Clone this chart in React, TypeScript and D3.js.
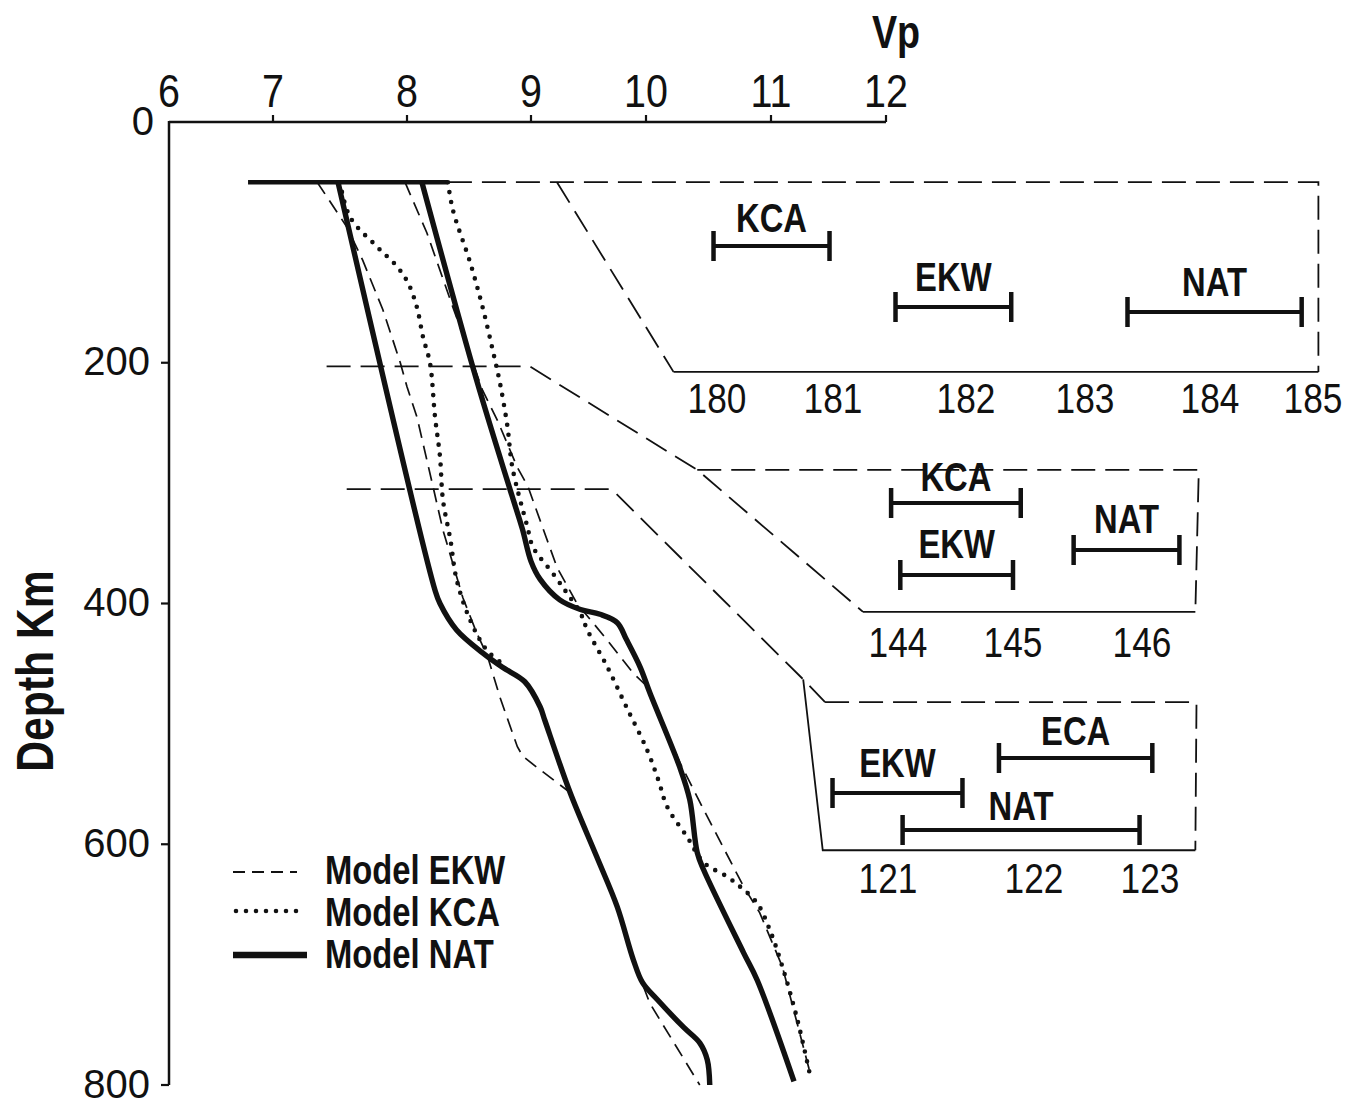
import React from 'react';
import * as d3 from 'd3';

// ---------- axis ticks ----------
const VP_TICKS = [6, 7, 8, 9, 10, 11, 12];
const DEPTH_TICKS = [0, 200, 400, 600, 800];

// ---------- model curves: [Vp (km/s), depth (km)] ----------
const MODEL_EKW_A: [number, number][] = [
  [7.33, 50], [7.55, 87], [7.67, 115], [7.82, 156], [7.95, 200], [8.0, 220], [8.08, 245],
  [8.21, 303], [8.29, 339], [8.45, 395], [8.56, 424], [8.65, 444], [8.75, 478], [8.89, 519],
  [8.935, 527], [9.05, 536], [9.34, 557], [9.57, 610], [9.75, 652], [9.89, 696], [10.03, 732],
  [10.43, 800],
];
const MODEL_EKW_B: [number, number][] = [
  [7.985, 50], [8.16, 92], [8.35, 148], [8.61, 223], [8.73, 248], [8.89, 287], [8.976, 303],
  [9.226, 370], [9.4, 400], [9.66, 430], [9.89, 458], [10.01, 469], [10.27, 532], [10.46, 571],
  [10.78, 635], [10.91, 657], [11.1, 702], [11.31, 779], [11.34, 790],
];
const MODEL_KCA_A: [number, number][] = [
  [7.5, 50], [7.575, 79], [7.78, 104], [7.925, 120], [8.01, 134], [8.08, 154], [8.13, 179],
  [8.185, 200], [8.226, 245], [8.266, 278], [8.29, 314], [8.35, 347], [8.4, 380], [8.51, 414],
  [8.645, 439], [8.77, 450],
];
const MODEL_KCA_B: [number, number][] = [
  [8.33, 50], [8.37, 73], [8.51, 117], [8.61, 154], [8.69, 189], [8.75, 217], [8.81, 253],
  [8.85, 287], [8.97, 336], [9.017, 353], [9.19, 375], [9.31, 391], [9.43, 408], [9.49, 422],
  [9.66, 452], [9.83, 486], [10.01, 522], [10.1, 547], [10.17, 569], [10.33, 594], [10.46, 615],
  [10.65, 627], [10.75, 635], [10.89, 649], [10.99, 671], [11.1, 702], [11.23, 746], [11.34, 792],
];
const MODEL_NAT_A: [number, number][] = [
  [7.485, 50], [8.226, 389], [8.266, 400], [8.4, 422], [8.61, 441], [8.77, 453], [8.95, 465],
  [9.08, 486], [9.12, 497], [9.34, 557], [9.57, 610], [9.75, 652], [9.89, 696], [9.97, 715],
  [10.09, 729], [10.3, 752], [10.43, 765], [10.49, 779], [10.51, 800],
];
const MODEL_NAT_B: [number, number][] = [
  [8.12, 50], [8.56, 214], [8.83, 305], [8.93, 338], [9.0, 365], [9.08, 380], [9.25, 397],
  [9.43, 405], [9.6, 409], [9.75, 416], [9.83, 430], [9.95, 453], [10.03, 474], [10.27, 536],
  [10.35, 563], [10.41, 607], [10.46, 621], [10.78, 690], [10.89, 713], [11.2, 797],
];
const TOP_SEGMENT: [number, number][] = [[6.76, 50], [8.33, 50]];

// ---------- inset outlines, in [Vp, depth] ----------
const OUTLINES_DASHED: [number, number][][] = [
  [[8.33, 50], [15.76, 50], [15.76, 207.6]],
  [[9.226, 50], [10.22, 207.6]],
  [[7.4, 203], [8.99, 203], [10.41, 289], [11.8, 407]],
  [[10.41, 289], [14.72, 289], [14.69, 407]],
  [[7.55, 305], [9.7, 305], [11.28, 463], [11.47, 482]],
  [[11.47, 482], [14.7, 482], [14.69, 605]],
];
const OUTLINES_SOLID: [number, number][][] = [
  [[10.22, 207.6], [15.76, 207.6]],
  [[11.8, 407], [14.69, 407]],
  [[11.28, 463], [11.45, 605], [14.69, 605]],
];

// ---------- insets: tick values and bar ranges ----------
const INSET1_TICKS = [180, 181, 182, 183, 184, 185];
const INSET2_TICKS = [144, 145, 146];
const INSET3_TICKS = [121, 122, 123];
const INSET1_NAMES = ['KCA', 'EKW', 'NAT'];
const INSET1_LO = [179.97, 181.47, 183.34];
const INSET1_HI = [180.97, 182.38, 184.89];
const INSET2_NAMES = ['KCA', 'EKW', 'NAT'];
const INSET2_LO = [143.94, 144.02, 145.47];
const INSET2_HI = [145.06, 145.0, 146.29];
const INSET3_NAMES = ['ECA', 'EKW', 'NAT'];
const INSET3_LO = [121.76, 120.62, 121.1];
const INSET3_HI = [123.02, 121.51, 122.91];

const LEGEND = ['Model EKW', 'Model KCA', 'Model NAT'];

const SANS = "'Liberation Sans', Arial, Helvetica, sans-serif";
const INK = '#111';

type NTextProps = {
  x: number;
  y: number;
  size: number;
  anchor?: 'start' | 'middle' | 'end';
  bold?: boolean;
  sx?: number;
  rotate?: number;
  children: React.ReactNode;
};

// Condensed text: Liberation Sans squeezed horizontally
function NText({ x, y, size, anchor = 'middle', bold = false, sx = 0.82, rotate = 0, children }: NTextProps) {
  const tr = `translate(${x},${y})${rotate ? ` rotate(${rotate})` : ''} scale(${sx},1)`;
  return (
    <text
      transform={tr}
      textAnchor={anchor}
      fontFamily={SANS}
      fontWeight={bold ? 'bold' : 'normal'}
      fontSize={size}
      fill={INK}
    >
      {children}
    </text>
  );
}

export default function App() {
  const W = 1357;
  const H = 1106;
  const x = d3.scaleLinear().domain(VP_TICKS).range([169, 273, 407, 531, 646, 771, 886]);
  const y = d3.scaleLinear().domain([0, 800]).range([122, 1085]);

  const linear = d3.line<[number, number]>().x(d => x(d[0])).y(d => y(d[1]));
  const smooth = d3
    .line<[number, number]>()
    .x(d => x(d[0]))
    .y(d => y(d[1]))
    .curve(d3.curveCatmullRom.alpha(0.5));

  const insets = [
    {
      ticks: INSET1_TICKS,
      scale: d3.scaleLinear().domain(INSET1_TICKS).range([717, 833, 966, 1085, 1210, 1313]),
      tickY: 413,
      names: INSET1_NAMES, lo: INSET1_LO, hi: INSET1_HI,
      rows: [246, 307, 312],
      dy: [-14, -16, -16],
    },
    {
      ticks: INSET2_TICKS,
      scale: d3.scaleLinear().domain(INSET2_TICKS).range([898, 1013, 1142]),
      tickY: 657,
      names: INSET2_NAMES, lo: INSET2_LO, hi: INSET2_HI,
      rows: [503, 575, 550],
      dy: [-12, -17, -17],
    },
    {
      ticks: INSET3_TICKS,
      scale: d3.scaleLinear().domain(INSET3_TICKS).range([888, 1034, 1150]),
      tickY: 893,
      names: INSET3_NAMES, lo: INSET3_LO, hi: INSET3_HI,
      rows: [758, 793, 830],
      dy: [-13, -16, -10],
    },
  ];

  return (
    <svg
      width={W}
      height={H}
      viewBox={`0 0 ${W} ${H}`}
      style={{ position: 'absolute', left: 0, top: 0, background: '#fff' }}
    >
      <rect x={0} y={0} width={W} height={H} fill="#fff" />

      {/* Axes */}
      <line x1={x(6)} y1={y(0)} x2={x(12)} y2={y(0)} stroke={INK} strokeWidth={2.5} />
      <line x1={x(6)} y1={y(0) - 1} x2={x(6)} y2={y(800)} stroke={INK} strokeWidth={2.5} />
      {VP_TICKS.slice(1).map(v => (
        <line key={'vt' + v} x1={x(v)} y1={y(0)} x2={x(v)} y2={y(0) - 7} stroke={INK} strokeWidth={2.2} />
      ))}
      {VP_TICKS.map(v => (
        <NText key={'vl' + v} x={x(v)} y={107} size={47} sx={0.84}>
          {v}
        </NText>
      ))}
      {DEPTH_TICKS.slice(1).map(d => (
        <line key={'dt' + d} x1={x(6) - 8} y1={y(d)} x2={x(6)} y2={y(d)} stroke={INK} strokeWidth={2.2} />
      ))}
      {DEPTH_TICKS.map(d => (
        <text
          key={'dl' + d}
          x={d === 0 ? 154 : 150}
          y={y(d) + 12.5}
          textAnchor="end"
          fontFamily={SANS}
          fontSize={40}
          fill={INK}
        >
          {d}
        </text>
      ))}
      <NText x={896} y={48} size={46} bold>
        Vp
      </NText>
      <NText x={53} y={671} size={52} bold rotate={-90}>
        Depth Km
      </NText>

      {/* Inset outlines */}
      {OUTLINES_DASHED.map((pts, i) => (
        <path key={'od' + i} d={linear(pts) || ''} fill="none" stroke={INK} strokeWidth={1.8} strokeDasharray="24 10" />
      ))}
      {OUTLINES_SOLID.map((pts, i) => (
        <path key={'os' + i} d={linear(pts) || ''} fill="none" stroke={INK} strokeWidth={1.8} />
      ))}

      {/* Model curves */}
      <path d={linear(TOP_SEGMENT) || ''} fill="none" stroke={INK} strokeWidth={4.5} />
      {[MODEL_EKW_A, MODEL_EKW_B].map((pts, i) => (
        <path key={'ekw' + i} d={linear(pts) || ''} fill="none" stroke={INK} strokeWidth={1.7} strokeDasharray="14 8" />
      ))}
      {[MODEL_KCA_A, MODEL_KCA_B].map((pts, i) => (
        <path
          key={'kca' + i}
          d={smooth(pts) || ''}
          fill="none"
          stroke={INK}
          strokeWidth={4.6}
          strokeLinecap="round"
          strokeDasharray="0 10"
        />
      ))}
      {[MODEL_NAT_A, MODEL_NAT_B].map((pts, i) => (
        <path key={'nat' + i} d={smooth(pts) || ''} fill="none" stroke={INK} strokeWidth={5.4} strokeLinejoin="round" />
      ))}

      {/* Insets */}
      {insets.map((ins, k) => (
        <g key={'ins' + k}>
          {ins.ticks.map(t => (
            <NText key={'it' + t} x={ins.scale(t)} y={ins.tickY} size={43}>
              {t}
            </NText>
          ))}
          {ins.names.map((nm, j) => {
            const x0 = ins.scale(ins.lo[j]);
            const x1 = ins.scale(ins.hi[j]);
            const yy = ins.rows[j];
            return (
              <g key={'bar' + j}>
                <line x1={x0} y1={yy} x2={x1} y2={yy} stroke={INK} strokeWidth={4.2} />
                <line x1={x0} y1={yy - 15} x2={x0} y2={yy + 15} stroke={INK} strokeWidth={4.5} />
                <line x1={x1} y1={yy - 15} x2={x1} y2={yy + 15} stroke={INK} strokeWidth={4.5} />
                <NText x={(x0 + x1) / 2} y={yy + ins.dy[j]} size={40} bold>
                  {nm}
                </NText>
              </g>
            );
          })}
        </g>
      ))}

      {/* Legend */}
      <line x1={233} y1={872} x2={297} y2={872} stroke={INK} strokeWidth={2} strokeDasharray="12 7" />
      <line x1={236} y1={911} x2={300} y2={911} stroke={INK} strokeWidth={4.6} strokeLinecap="round" strokeDasharray="0 10" />
      <line x1={233} y1={955} x2={307} y2={955} stroke={INK} strokeWidth={6.5} />
      {LEGEND.map((t, i) => (
        <NText key={'lg' + i} x={325} y={884 + i * 42} size={40} bold anchor="start">
          {t}
        </NText>
      ))}
    </svg>
  );
}
